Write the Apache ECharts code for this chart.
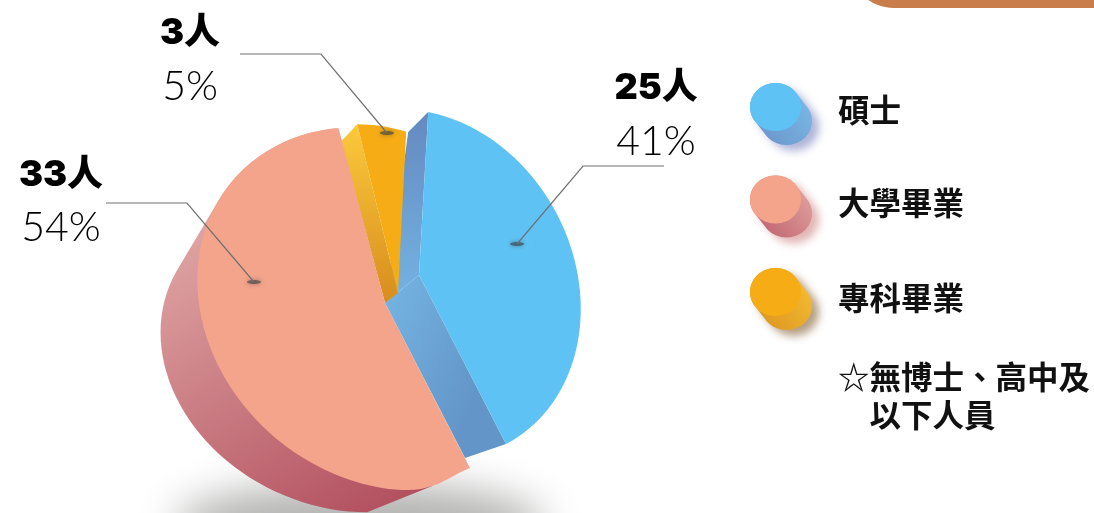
<!DOCTYPE html>
<html>
<head>
<meta charset="utf-8">
<style>
  html, body { margin: 0; padding: 0; background: #fff; }
  #main { width: 1094px; height: 513px; }
</style>
<script src="https://cdn.jsdelivr.net/npm/echarts@6/dist/echarts.min.js"></script>
</head>
<body>
<div id="main"></div>
<script>
// 學歷分布
var categories = ['碩士', '大學畢業', '專科畢業'];
var people = [25, 33, 3];
var peopleLabels = ['25人', '33人', '3人'];
var percentLabels = ['41%', '54%', '5%'];
var note = '☆無博士、高中及\n　以下人員';

var CJK = '"Noto Sans CJK TC"';
var RAD = Math.PI / 180;
var total = people.reduce(function (a, b) { return a + b; }, 0);

// 扇形從 大學 → 專科 → 碩士 依序排
var sweepOrder = [1, 2, 0];
var angles = {};
var acc = 0;
sweepOrder.forEach(function (i) {
    var from = acc;
    acc += people[i] / total * 360;
    angles[i] = [from, acc];
});

// 每片的投影參數（畫面位置、樣式）
var layout = [
    { // 碩士
        c: [420, 280], u: [86, 164], v: [-138, 72], k: 0.05, m: 0, apex: [419, 275], z: 10, trim: 2.5,
        top: '#5ec3f4',
        walls: [
            { a: [-20, 20], b: [-34, 28], from: 'start', colors: ['#6589bf', '#74b4e4'], dir: [0, 0, 0, 1] },
            { a: [-41, 14], b: [-34, 28], from: 'end', colors: ['#75b5e4', '#6395c8'], dir: [0, 0, 1, 0.3] }
        ],
        dot: [517, 244], leader: [[664, 166], [583, 166], [517, 244]],
        labelPos: [656, 88], pctPos: [656, 142],
        legendY: 107, legendTextY: 110,
        legendWall: ['#6a90c6', '#7abbe8'], legendShadow: 'rgba(80,90,170,0.45)'
    },
    { // 大學畢業
        c: [385, 309], u: [91.3, 170.9], v: [-164, 62], k: 0, m: 0.075, apex: [385, 303], z: 30, trim: 0,
        top: '#f3a48b',
        // 底面橢圓，側面取頂面與底面的外包
        base: { c: [339, 357], u: [86.7, 146], v: [-156, 53], k: 0, m: 0 },
        baseFrom: 20, topFrom: 14,
        baseColors: ['#ecbdb8', '#b24f5e'], baseDir: [0, 0, 0.85, 1],
        dot: [254, 282], leader: [[106, 203], [187, 203], [254, 282]],
        labelPos: [61, 175], pctPos: [61, 228],
        legendY: 199.5, legendTextY: 203,
        legendWall: ['#bb5a68', '#e2a4a0'], legendShadow: 'rgba(190,90,90,0.45)'
    },
    { // 專科畢業
        c: [398, 293], u: [85, 176], v: [-150, 46], k: 0.08, m: 0, apex: [398, 293], z: 20, trim: 0,
        top: '#f6ac14',
        walls: [
            { a: [-16, 17], b: [-13, 10], from: 'start', colors: ['#fcc93c', '#d78d1d'], dir: [0, 0, 0, 1] }
        ],
        dot: [387, 133], leader: [[240, 54], [321, 54], [387, 133]],
        labelPos: [190, 33], pctPos: [190, 87],
        legendY: 292, legendTextY: 298,
        legendWall: ['#d98f1e', '#f5bf35'], legendShadow: 'rgba(120,80,30,0.55)'
    }
];

function pointAt(l, deg) {
    var cos = Math.cos(deg * RAD), sin = Math.sin(deg * RAD);
    // m 只收窄切口附近的邊
    var w = 1 + l.k * (1 - cos) / 2 + l.m * Math.pow(Math.max(0, cos), 40);
    return [
        l.c[0] + (l.u[0] * cos + l.v[0] * sin) / w,
        l.c[1] + (l.u[1] * cos + l.v[1] * sin) / w
    ];
}

function grad(dir, colors) {
    return new echarts.graphic.LinearGradient(dir[0], dir[1], dir[2], dir[3], [
        { offset: 0, color: colors[0] },
        { offset: 1, color: colors[1] }
    ]);
}

function add(p, d) { return [p[0] + d[0], p[1] + d[1]]; }

function ellipsePts(cx, cy, rx, ry) {
    var pts = [];
    for (var a = 0; a < 360; a += 3) {
        pts.push([cx + rx * Math.cos(a * RAD), cy + ry * Math.sin(a * RAD)]);
    }
    return pts;
}

function hull(points) {
    var pts = points.slice().sort(function (a, b) { return a[0] - b[0] || a[1] - b[1]; });
    function cross(o, a, b) { return (a[0] - o[0]) * (b[1] - o[1]) - (a[1] - o[1]) * (b[0] - o[0]); }
    function half(list) {
        var out = [];
        list.forEach(function (p) {
            while (out.length >= 2 && cross(out[out.length - 2], out[out.length - 1], p) <= 0) out.pop();
            out.push(p);
        });
        out.pop();
        return out;
    }
    return half(pts).concat(half(pts.slice().reverse()));
}

function poly(points, style, z2) {
    return { type: 'polygon', shape: { points: points }, style: style, z2: z2, silent: true };
}

function renderSlice(params) {
    var i = params.dataIndex;
    var l = layout[i];
    var from = angles[i][0] + l.trim, to = angles[i][1];
    var kids = [];

    var arc = [];
    for (var a = from; a <= to + 0.001; a += 2) arc.push(pointAt(l, a));
    arc.push(pointAt(l, to));

    // 側面
    (l.walls || []).forEach(function (w, n) {
        var edge = w.from === 'start' ? pointAt(l, from) : pointAt(l, to);
        kids.push(poly([edge, add(edge, w.a), add(l.apex, w.b), l.apex], {
            fill: grad(w.dir, w.colors)
        }, l.z + n));
    });
    if (l.base) {
        var pts = [];
        for (var b = l.baseFrom; b <= to; b += 3) pts.push(pointAt(l.base, b));
        for (var e = l.topFrom; e <= to; e += 3) pts.push(pointAt(l, e));
        kids.push(poly(hull(pts), { fill: grad(l.baseDir, l.baseColors) }, 5));
    }

    // 頂面
    kids.push(poly([l.apex].concat(arc), { fill: l.top }, l.z + 5));

    // 引線
    kids.push(poly(ellipsePts(l.dot[0], l.dot[1], 7, 2), {
        fill: 'rgba(55,65,65,0.6)', shadowBlur: 5, shadowColor: 'rgba(40,40,40,0.7)'
    }, 60));
    kids.push({
        type: 'polyline', shape: { points: l.leader }, silent: true, z2: 61,
        style: { fill: null, stroke: '#707070', lineWidth: 1.2 }
    });

    // 數字
    kids.push({
        type: 'text', silent: true, z2: 70,
        style: {
            text: peopleLabels[i], x: l.labelPos[0], y: l.labelPos[1], fill: '#000',
            font: '900 36px Inter,' + CJK, textAlign: 'center', textVerticalAlign: 'middle'
        }
    });
    kids.push({
        type: 'text', silent: true, z2: 70,
        style: {
            text: percentLabels[i], x: l.pctPos[0], y: l.pctPos[1], fill: '#000',
            font: '300 41px Lato', textAlign: 'center', textVerticalAlign: 'middle'
        }
    });

    // 圖例
    var cy = l.legendY, cx = 775.5;
    var body = [];
    for (var d = 0; d < 360; d += 4) {
        var q = [cx + 25.5 * Math.cos(d * RAD), cy + 24 * Math.sin(d * RAD)];
        var dirDot = 25.5 * Math.cos(d * RAD) * 11 + 24 * Math.sin(d * RAD) * 14;
        body.push(dirDot > 0 ? add(q, [11, 14]) : q);
    }
    kids.push(poly(body, {
        fill: grad([0, 1, 1, 0.2], l.legendWall),
        shadowBlur: 9, shadowOffsetX: 7, shadowOffsetY: 6, shadowColor: l.legendShadow
    }, 40));
    kids.push(poly(ellipsePts(cx, cy, 25.5, 24), { fill: l.top }, 41));
    kids.push({
        type: 'text', silent: true, z2: 70,
        style: {
            text: categories[i], x: 838, y: l.legendTextY, fill: '#111',
            font: 'bold 31.5px ' + CJK, textAlign: 'left', textVerticalAlign: 'middle'
        }
    });

    return { type: 'group', children: kids };
}

var chart = echarts.init(document.getElementById('main'), null, { renderer: 'canvas' });
chart.setOption({
    animation: false,
    backgroundColor: '#fff',
    graphic: [
        { // 右上角色塊
            type: 'rect', z: 1, silent: true,
            shape: { x: 849, y: -100, width: 320, height: 108, r: 45 },
            style: { fill: '#c97d4a' }
        },
        { // 地面陰影：本體放在畫面外，只留模糊的影子
            type: 'ellipse', z: 1, silent: true,
            shape: { cx: 360, cy: -1000, rx: 185, ry: 42 },
            style: { fill: '#bbb', shadowBlur: 40, shadowOffsetY: 1525, shadowColor: '#b4b4b3' }
        },
        {
            type: 'text', z: 5, silent: true, x: 838, y: 396,
            style: {
                text: note, fill: '#111', font: 'bold 31.5px ' + CJK, lineHeight: 38,
                textAlign: 'left', textVerticalAlign: 'middle'
            }
        }
    ],
    series: [{
        type: 'custom',
        coordinateSystem: 'none',
        silent: true,
        z: 3,
        data: people,
        renderItem: renderSlice
    }]
});
</script>
</body>
</html>
